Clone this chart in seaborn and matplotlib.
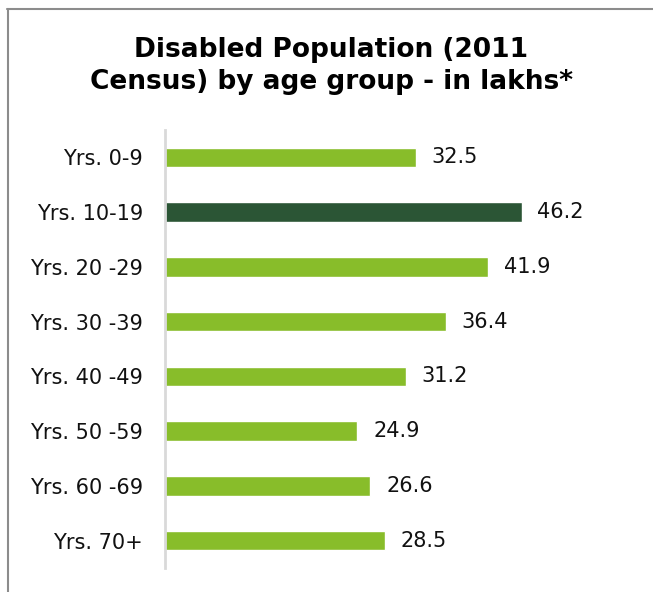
import matplotlib
matplotlib.use("Agg")
import matplotlib.pyplot as plt
import seaborn as sns
import pandas as pd
from matplotlib.lines import Line2D

categories = ["Yrs. 0-9", "Yrs. 10-19", "Yrs. 20 -29", "Yrs. 30 -39",
              "Yrs. 40 -49", "Yrs. 50 -59", "Yrs. 60 -69", "Yrs. 70+"]
values = [32.5, 46.2, 41.9, 36.4, 31.2, 24.9, 26.6, 28.5]
highlight = [False, True, False, False, False, False, False, False]
title = "Disabled Population (2011\nCensus) by age group - in lakhs*"

light = "#88BD2A"
dark = "#2B5535"

sns.set_theme(style="white")
plt.rcParams["font.family"] = ["DejaVu Sans"]

df = pd.DataFrame({"cat": categories, "val": values,
                   "hl": ["hi" if h else "lo" for h in highlight]})

fig = plt.figure(figsize=(6.53, 5.92), dpi=100)
ax = fig.add_axes([165 / 653, 24 / 592, 463 / 653, 438 / 592])

sns.barplot(data=df, y="cat", x="val", hue="hl", order=categories,
            palette={"lo": light, "hi": dark}, dodge=False, width=0.36,
            legend=False, ax=ax, orient="h", saturation=1)

for i, v in enumerate(values):
    ax.annotate(f"{v:.1f}", xy=(v, i), xytext=(11.5, 0),
                textcoords="offset points", va="center", ha="left",
                fontsize=15, color="#111111")

ax.set_xlim(0, 60)
ax.set_ylim(7.5, -0.5)
ax.set_xlabel("")
ax.set_ylabel("")
ax.set_xticks([])
ax.tick_params(axis="y", length=0, pad=16, labelsize=15, labelcolor="#111111")
for s in ["top", "right", "bottom"]:
    ax.spines[s].set_visible(False)
ax.spines["left"].set_color("#D9D9D9")
ax.spines["left"].set_linewidth(2)

fig.text(331 / 653, 1 - 66 / 592, title, ha="center", va="center",
         fontsize=19, fontweight="bold", color="#000000", linespacing=1.3)

frame_col = "#8C8C8C"
fig.add_artist(Line2D([8 / 653, 8 / 653], [0, 1 - 9 / 592],
                      transform=fig.transFigure, color=frame_col, lw=1.5))
fig.add_artist(Line2D([7 / 653, 1], [1 - 9 / 592, 1 - 9 / 592],
                      transform=fig.transFigure, color=frame_col, lw=1.5))

fig.savefig("out.png", dpi=100)
